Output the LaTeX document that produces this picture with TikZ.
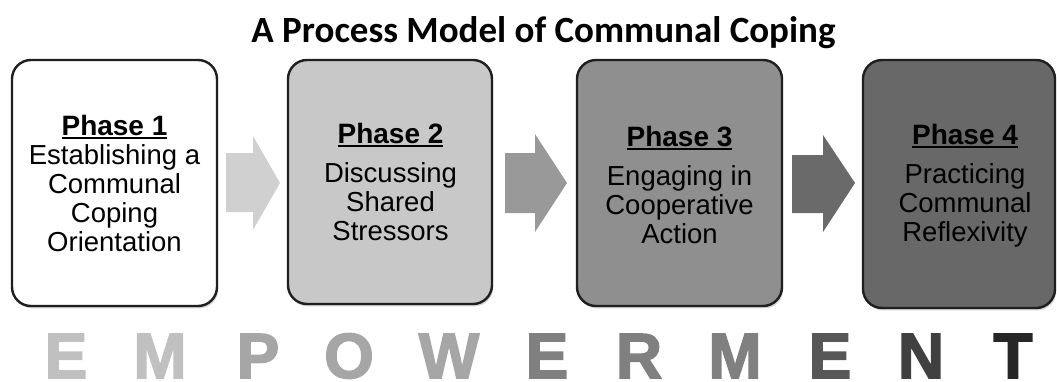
\documentclass[tikz,border=0pt]{standalone}
\usepackage{fontspec}
\setmainfont{Liberation Sans}
\newfontfamily\titlefont{Carlito}
\newfontfamily\heavyfont{Liberation Sans Bold}[FakeBold=2.4]
\usetikzlibrary{shadows}

\definecolor{boxA}{HTML}{FFFFFF}
\definecolor{boxB}{HTML}{C8C8C8}
\definecolor{boxC}{HTML}{8F8F8F}
\definecolor{boxD}{HTML}{686868}
\definecolor{arrA}{HTML}{D0D0D0}
\definecolor{arrB}{HTML}{999999}
\definecolor{arrC}{HTML}{6A6A6A}
\definecolor{ltrA}{HTML}{C0C0C0}
\definecolor{ltrB}{HTML}{A6A6A6}
\definecolor{ltrC}{HTML}{808080}
\definecolor{ltrD}{HTML}{575757}
\definecolor{ltrE}{HTML}{404040}
\definecolor{ltrF}{HTML}{262626}

% underlined phase heading
\newcommand\phaseul[1]{\setbox0\hbox{#1}\rlap{\rule[-3.5pt]{\wd0}{1.6pt}}\box0}

\begin{document}
\begin{tikzpicture}[x=1pt,y=-1pt,
  phasebox/.style={rectangle, draw=black!88, line width=2.4pt, rounded corners=19pt,
    inner sep=0pt,
    drop shadow={shadow xshift=1.2pt, shadow yshift=-2.4pt, opacity=0.35}},
  phasetext/.style={align=center, anchor=base, inner sep=0pt,
    font=\fontsize{27.5}{29}\selectfont},
  letter/.style={anchor=base, inner sep=0pt,
    font=\heavyfont\fontsize{64}{64}\selectfont}]
\useasboundingbox (0,0) rectangle (1057,381);

% title
\node[anchor=base, inner sep=0pt, font=\titlefont\bfseries\fontsize{37}{37}\selectfont]
  (title) at (543.5,42) {A Process Model of Communal Coping};

% phase boxes
\node[phasebox, fill=boxA, minimum width=205pt, minimum height=246pt] (b1) at (114.5,183) {};
\node[phasebox, fill=boxB, minimum width=204pt, minimum height=244pt] (b2) at (390,182) {};
\node[phasebox, fill=boxC, minimum width=205pt, minimum height=246pt] (b3) at (679.5,183) {};
\node[phasebox, fill=boxD, minimum width=192pt, minimum height=248pt] (b4) at (959,184) {};

% texts (anchored at the baseline of their last line)
\node[phasetext] (t1) at (114.5,251)
  {{\bfseries\fontsize{28}{29}\selectfont\phaseul{Phase 1}}\\
   Establishing a\\Communal\\Coping\\Orientation};
\node[phasetext] (t2) at (390.5,240)
  {{\bfseries\fontsize{28}{29}\selectfont\phaseul{Phase 2}}\\[10pt]
   Discussing\\Shared\\Stressors};
\node[phasetext] (t3) at (679.5,243)
  {{\bfseries\fontsize{28}{29}\selectfont\phaseul{Phase 3}}\\[10pt]
   Engaging in\\Cooperative\\Action};
\node[phasetext] (t4) at (965,241)
  {{\bfseries\fontsize{28}{29}\selectfont\phaseul{Phase 4}}\\[10pt]
   Practicing\\Communal\\Reflexivity};

% block arrows between the phases
\fill[arrA] (226,153) -- (253,153) -- (253,136) -- (280,183) -- (253,230) -- (253,212) -- (226,212) -- cycle;
\fill[arrB] (505,153) -- (535,153) -- (535,134) -- (567,183) -- (535,232) -- (535,213) -- (505,213) -- cycle;
\fill[arrC] (792,155) -- (823,155) -- (823,135) -- (855,183) -- (823,232) -- (823,213) -- (792,213) -- cycle;

% EMPOWERMENT
\node[letter, text=ltrA] (l1)  at (66,378)   {E};
\node[letter, text=ltrA] (l2)  at (160,378)  {M};
\node[letter, text=ltrB] (l3)  at (258,378)  {P};
\node[letter, text=ltrB] (l4)  at (349,378)  {O};
\node[letter, text=ltrB] (l5)  at (449,378)  {W};
\node[letter, text=ltrC] (l6)  at (547,378)  {E};
\node[letter, text=ltrC] (l7)  at (639,378)  {R};
\node[letter, text=ltrC] (l8)  at (735,378)  {M};
\node[letter, text=ltrD] (l9)  at (830,378)  {E};
\node[letter, text=ltrE] (l10) at (921,378)  {N};
\node[letter, text=ltrF] (l11) at (1013,378) {T};
\end{tikzpicture}
\end{document}
